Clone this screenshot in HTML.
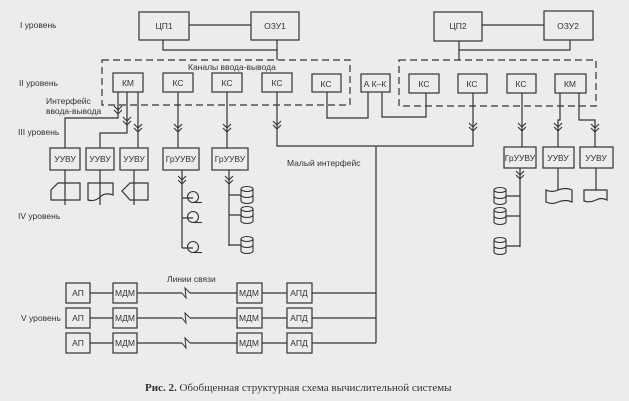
<!DOCTYPE html>
<html><head><meta charset="utf-8"><style>
html,body{margin:0;padding:0;background:#ececea;}
svg{display:block}
text{font-family:"Liberation Sans",sans-serif;font-size:8.5px;fill:#333}
</style></head><body>
<svg width="629" height="401" viewBox="0 0 629 401" xmlns="http://www.w3.org/2000/svg">
<defs>
<g id="ar"><path d="M-4,-4 L0,0 L4,-4 M-4,0 L0,4 L4,0" fill="none" stroke="#333" stroke-width="1.1"/></g>
<g id="reel"><circle cx="0" cy="0" r="5.5" fill="none" stroke="#333" stroke-width="1.1"/><path d="M0,5.5 H9" stroke="#333" stroke-width="1.1"/></g>
<g id="cyl" fill="none" stroke="#333" stroke-width="1.1"><ellipse cx="0" cy="-6" rx="6" ry="2.5"/><path d="M-6,-6 V6 A6,2.5 0 0 0 6,6 V-6"/><path d="M-6,0 A6,2.5 0 0 0 6,0"/></g>
</defs>
<rect width="629" height="401" fill="#ececea"/>
<g fill="none" stroke="#333" stroke-width="1.2">
<rect x="139" y="12" width="50" height="28"/><rect x="251" y="12" width="48" height="28"/>
<rect x="434" y="12" width="48" height="29"/><rect x="544" y="11" width="49" height="29"/>
<path d="M189,25 H251 M163,40 V50 H277 M277,40 V60"/>
<path d="M482,25 H544 M459,41 V60 M459,50 H570 V40"/>
<g stroke-dasharray="7,4"><rect x="102" y="60" width="248" height="45"/><rect x="399" y="60" width="197" height="46"/></g>
<rect x="113" y="73" width="30" height="19"/><rect x="163" y="73" width="30" height="19"/>
<rect x="212" y="73" width="30" height="19"/><rect x="262" y="73" width="30" height="19"/>
<rect x="312" y="74" width="29" height="18"/><rect x="361" y="74" width="29" height="18"/>
<rect x="409" y="74" width="30" height="19"/><rect x="458" y="74" width="29" height="19"/>
<rect x="507" y="74" width="29" height="19"/><rect x="555" y="74" width="31" height="19"/>
<path d="M327,92 V118 H368 V92 M382,92 V117 H426 V93"/>
<path d="M277,92 V146 H473 V93 M376,146 V343"/>
<path d="M118,92 V118 H65 V148 M127,92 V133 H100 V148 M138,92 V148"/>
<path d="M178,92 V148 M227,92 V148"/>
<path d="M522,93 V147 M560,93 V120 H558 V147 M579,93 V120 H595 V147"/>
<rect x="50" y="148" width="30" height="22"/><rect x="86" y="148" width="28" height="22"/><rect x="120" y="148" width="28" height="22"/>
<rect x="163" y="148" width="36" height="22"/><rect x="212" y="148" width="36" height="22"/>
<rect x="504" y="147" width="32" height="21"/><rect x="543" y="147" width="31" height="21"/><rect x="580" y="147" width="33" height="21"/>
<path d="M65,170 V205 M100,170 V205 M134,170 V205"/>
<path d="M51,200 V190 L58,183 H80 V200 Z"/>
<path d="M88,183 H113 V195 Q105,192 100,197 Q95,202 88,200 Z"/>
<path d="M122,191 L130,183 H148 V200 H130 Z"/>
<path d="M182,170 V248 M182,198 H193 M182,218 H193 M182,248 H193"/>
<path d="M229,170 V246 M229,195 H241 M229,215 H241 M229,245 H241"/>
<path d="M520,168 V247 M520,196 H506 M520,216 H506 M520,246 H506"/>
<path d="M558,168 V190 M596,168 V190"/>
<path d="M546,190 Q552,193 558,190 Q566,187 572,190 V202 Q566,199 558,202 Q552,205 546,202 Z"/>
<path d="M584,190 H607 V200 Q601,197 596,200 Q590,203 584,201 Z"/>
<g id="row">
<rect x="66" y="283" width="24" height="20"/><rect x="113" y="283" width="24" height="20"/>
<rect x="237" y="283" width="25" height="20"/><rect x="287" y="283" width="25" height="20"/>
<path d="M90,293 H113 M137,293 H182 M190,293 H237 M262,293 H287 M312,293 H376"/>
<path d="M182,293 L186,298 L185,288 L190,293" stroke-width="1"/>
</g>
<use href="#row" y="25"/><use href="#row" y="50"/>
</g>
<use href="#ar" x="118" y="110"/><use href="#ar" x="127" y="121"/><use href="#ar" x="138" y="128"/>
<use href="#ar" x="178" y="128"/><use href="#ar" x="227" y="128"/><use href="#ar" x="277" y="125"/>
<use href="#ar" x="473" y="127"/><use href="#ar" x="522" y="127"/><use href="#ar" x="558" y="127"/><use href="#ar" x="595" y="128"/>
<use href="#ar" x="182" y="180"/><use href="#ar" x="229" y="180"/><use href="#ar" x="520" y="175"/>
<use href="#reel" x="193" y="197"/><use href="#reel" x="193" y="217"/><use href="#reel" x="193" y="247"/>
<use href="#cyl" x="247" y="195"/><use href="#cyl" x="247" y="215"/><use href="#cyl" x="247" y="245"/>
<use href="#cyl" x="500" y="196"/><use href="#cyl" x="500" y="216"/><use href="#cyl" x="500" y="246"/>
<g text-anchor="middle">
<text x="164" y="29">ЦП1</text><text x="275" y="29">ОЗУ1</text><text x="458" y="29">ЦП2</text><text x="568" y="29">ОЗУ2</text>
<text x="128" y="86">КМ</text><text x="178" y="86">КС</text><text x="227" y="86">КС</text><text x="277" y="86">КС</text><text x="326" y="87">КС</text>
<text x="375" y="87" font-size="8">А К–К</text><text x="424" y="87">КС</text><text x="472" y="87">КС</text><text x="521" y="87">КС</text><text x="570" y="87">КМ</text>
<text x="65" y="162" font-size="8">УУВУ</text><text x="100" y="162" font-size="8">УУВУ</text><text x="134" y="162" font-size="8">УУВУ</text>
<text x="181" y="162" font-size="7.5">ГрУУВУ</text><text x="230" y="162" font-size="7.5">ГрУУВУ</text>
<text x="520" y="161" font-size="7">ГрУУВУ</text><text x="558" y="161" font-size="8">УУВУ</text><text x="596" y="161" font-size="8">УУВУ</text>
</g>
<g text-anchor="middle" font-size="7.5">
<text x="78" y="296">АП</text><text x="125" y="296">МДМ</text><text x="249" y="296">МДМ</text><text x="299" y="296">АПД</text>
<text x="78" y="321">АП</text><text x="125" y="321">МДМ</text><text x="249" y="321">МДМ</text><text x="299" y="321">АПД</text>
<text x="78" y="346">АП</text><text x="125" y="346">МДМ</text><text x="249" y="346">МДМ</text><text x="299" y="346">АПД</text>
</g>
<text x="20" y="28" font-size="8">I уровень</text>
<text x="19" y="86" font-size="8">II уровень</text>
<text x="18" y="135" font-size="8">III уровень</text>
<text x="18" y="219" font-size="8">IV уровень</text>
<text x="21" y="321" font-size="7.5">V уровень</text>
<text x="188" y="70" font-size="8">Каналы ввода-вывода</text>
<text x="46" y="104" font-size="8">Интерфейс</text>
<text x="46" y="114" font-size="8">ввода-вывода</text>
<text x="287" y="166" font-size="8">Малый интерфейс</text>
<text x="167" y="282" font-size="7.5">Линии связи</text>
<text x="145" y="391" style="font-family:'Liberation Serif',serif;font-size:11px"><tspan font-weight="bold">Рис. 2.</tspan>  Обобщенная структурная схема вычислительной системы</text>
</svg>
</body></html>
